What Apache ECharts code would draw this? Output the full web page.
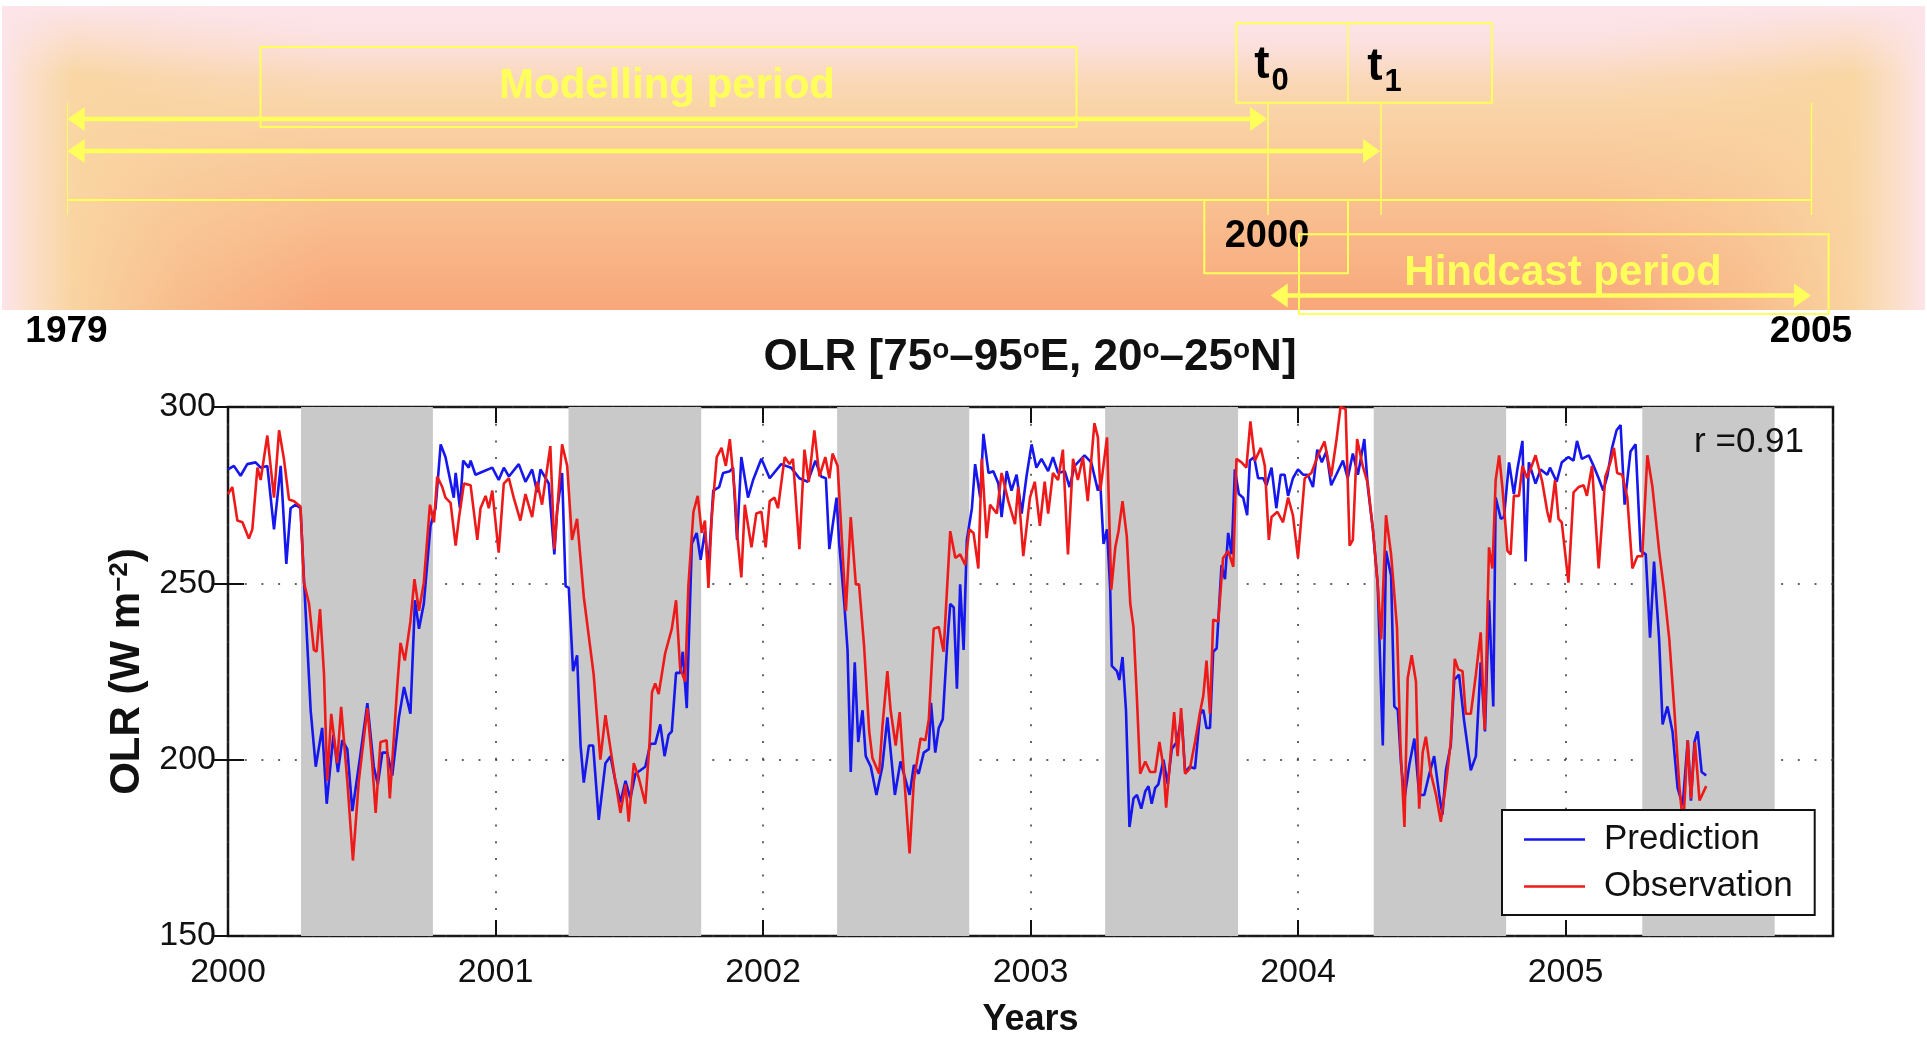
<!DOCTYPE html>
<html>
<head>
<meta charset="utf-8">
<title>OLR hindcast</title>
<script src="https://cdn.jsdelivr.net/npm/echarts@6/dist/echarts.min.js"></script>
<style>
  html, body { margin: 0; padding: 0; background: #fff; }
  #chart { width: 1927px; height: 1043px; }
</style>
</head>
<body>
<div id="chart"></div>
<script>
// ---- data -------------------------------------------------------------
// Time is in years after 1 Jan 2000.
const yearLabels = ['2000', '2001', '2002', '2003', '2004', '2005'];
const olrTicks = [150, 200, 250, 300];

// Grey bands: summer monsoon season of each year
const monsoonStart = [0.273, 1.273, 2.277, 3.279, 4.283, 5.287];
const monsoonEnd   = [0.766, 1.769, 2.771, 3.776, 4.778, 5.782];

const correlation = 0.91;

// Predicted OLR (W m-2), [time, value]
const prediction = [
  [0.000,282.3],[0.022,283.3],[0.047,280.5],[0.072,283.8],[0.103,284.3],[0.122,282.8],[0.147,283.3],[0.172,265.3],
  [0.197,283.3],[0.218,255.5],[0.234,271.3],[0.253,272.3],[0.271,271.3],[0.284,251.2],[0.309,214.0],[0.328,198.0],
  [0.352,209.0],[0.369,187.5],[0.394,207.0],[0.411,196.5],[0.427,205.5],[0.446,203.0],[0.465,185.4],[0.496,202.0],
  [0.521,216.0],[0.545,198.0],[0.560,193.0],[0.577,202.0],[0.595,202.0],[0.614,195.5],[0.639,212.0],[0.658,220.6],
  [0.682,213.0],[0.699,245.2],[0.714,237.1],[0.732,244.2],[0.757,266.3],[0.776,271.3],[0.795,289.4],[0.813,285.8],
  [0.844,274.3],[0.851,281.3],[0.867,271.3],[0.879,284.8],[0.900,282.8],[0.907,284.8],[0.925,280.8],[0.956,281.8],
  [0.988,282.8],[1.012,279.3],[1.031,282.8],[1.050,280.3],[1.087,283.8],[1.112,278.8],[1.137,282.3],[1.156,275.8],
  [1.168,282.3],[1.199,278.3],[1.220,258.2],[1.230,270.3],[1.249,281.3],[1.262,249.2],[1.274,248.7],[1.290,225.1],
  [1.305,229.6],[1.318,204.0],[1.330,193.5],[1.349,204.0],[1.365,204.0],[1.386,182.9],[1.411,199.0],[1.430,201.0],
  [1.448,194.0],[1.467,187.9],[1.486,194.0],[1.504,189.0],[1.523,196.0],[1.542,197.0],[1.560,198.0],[1.579,204.5],
  [1.597,204.5],[1.616,210.0],[1.632,201.0],[1.647,207.0],[1.659,208.0],[1.675,224.6],[1.690,224.6],[1.700,230.6],
  [1.715,214.6],[1.734,261.2],[1.752,264.3],[1.767,256.7],[1.783,264.8],[1.796,254.2],[1.814,276.3],[1.836,277.3],
  [1.851,281.3],[1.876,281.8],[1.888,282.8],[1.903,262.3],[1.919,285.8],[1.944,274.3],[1.963,279.3],[1.994,285.3],
  [2.025,279.8],[2.068,283.8],[2.105,282.8],[2.136,279.8],[2.167,278.8],[2.196,284.8],[2.217,280.3],[2.235,279.8],
  [2.248,259.7],[2.275,274.3],[2.285,261.2],[2.304,244.2],[2.316,231.1],[2.328,196.5],[2.343,227.6],[2.356,205.0],
  [2.372,214.0],[2.384,201.0],[2.403,198.0],[2.424,190.0],[2.446,198.0],[2.465,212.0],[2.493,190.0],[2.514,199.5],
  [2.548,190.0],[2.564,198.5],[2.582,196.0],[2.601,202.0],[2.620,203.0],[2.628,216.1],[2.644,202.0],[2.657,209.0],
  [2.672,211.5],[2.688,232.1],[2.700,244.2],[2.713,243.2],[2.725,220.1],[2.737,249.7],[2.750,231.1],[2.762,262.3],
  [2.781,271.3],[2.793,283.8],[2.812,274.3],[2.824,292.4],[2.843,281.3],[2.861,281.8],[2.880,278.3],[2.892,268.8],
  [2.911,281.8],[2.929,276.3],[2.948,280.8],[2.967,269.8],[2.985,280.3],[3.004,289.4],[3.022,282.8],[3.041,285.3],
  [3.066,281.8],[3.084,285.8],[3.103,281.3],[3.128,281.8],[3.146,277.3],[3.165,283.3],[3.202,286.3],[3.227,284.3],
  [3.252,276.3],[3.261,278.3],[3.273,261.2],[3.286,265.3],[3.298,248.2],[3.304,226.6],[3.323,225.1],[3.332,222.6],
  [3.344,229.1],[3.357,214.0],[3.370,180.9],[3.385,189.0],[3.398,190.0],[3.414,186.1],[3.429,191.0],[3.441,192.5],
  [3.453,187.5],[3.466,192.0],[3.478,193.0],[3.497,200.0],[3.513,193.0],[3.528,203.0],[3.547,205.0],[3.565,212.1],
  [3.578,196.5],[3.596,198.0],[3.615,197.5],[3.634,213.0],[3.646,214.1],[3.658,209.0],[3.671,209.0],[3.683,230.6],
  [3.696,231.6],[3.714,255.2],[3.727,251.2],[3.739,264.3],[3.752,258.2],[3.764,282.3],[3.779,275.3],[3.795,274.3],
  [3.810,269.3],[3.820,284.8],[3.836,285.8],[3.851,279.8],[3.870,279.8],[3.882,277.8],[3.901,282.8],[3.919,271.3],
  [3.935,280.8],[3.950,280.8],[3.963,274.8],[3.981,279.8],[4.000,282.3],[4.019,280.8],[4.037,280.8],[4.056,277.3],
  [4.072,287.9],[4.089,284.3],[4.106,287.4],[4.124,277.8],[4.143,280.8],[4.168,284.8],[4.186,279.8],[4.205,286.8],
  [4.224,280.8],[4.248,290.9],[4.261,277.3],[4.280,265.3],[4.298,249.7],[4.317,204.0],[4.329,259.2],[4.348,252.2],
  [4.360,215.1],[4.373,214.1],[4.385,199.0],[4.398,189.0],[4.416,198.5],[4.435,206.0],[4.453,190.0],[4.472,190.0],
  [4.491,196.0],[4.509,201.0],[4.528,190.0],[4.540,184.4],[4.553,197.0],[4.571,204.0],[4.584,222.6],[4.602,224.1],
  [4.621,211.0],[4.646,197.0],[4.665,201.0],[4.683,227.6],[4.699,208.0],[4.714,245.2],[4.730,215.1],[4.739,274.3],
  [4.758,268.3],[4.770,268.8],[4.789,284.3],[4.807,275.3],[4.820,282.3],[4.839,290.4],[4.851,256.2],[4.863,284.3],
  [4.888,278.3],[4.907,282.3],[4.932,280.8],[4.942,282.8],[4.967,278.8],[4.986,284.3],[5.011,285.8],[5.030,284.8],
  [5.043,290.4],[5.061,285.3],[5.087,286.3],[5.105,283.3],[5.124,279.8],[5.141,276.3],[5.156,280.3],[5.174,288.4],
  [5.191,293.4],[5.206,294.9],[5.221,272.3],[5.243,287.4],[5.262,289.4],[5.281,259.2],[5.300,258.2],[5.316,234.6],
  [5.331,256.2],[5.350,234.1],[5.363,210.0],[5.381,215.1],[5.400,208.0],[5.419,192.0],[5.438,187.0],[5.457,205.5],
  [5.469,188.4],[5.482,205.0],[5.494,208.0],[5.509,196.5],[5.526,195.5]
];

// Observed OLR (W m-2), [time, value]
const observation = [
  [0.000,275.3],[0.016,277.3],[0.035,267.8],[0.054,267.3],[0.078,262.7],[0.091,265.3],[0.110,282.8],[0.122,279.3],
  [0.147,291.9],[0.172,274.3],[0.191,293.4],[0.209,285.3],[0.228,273.8],[0.247,273.3],[0.271,271.8],[0.284,250.2],
  [0.303,244.2],[0.321,231.1],[0.331,230.6],[0.344,242.7],[0.359,224.1],[0.371,194.0],[0.386,213.0],[0.408,199.0],
  [0.423,215.0],[0.446,194.0],[0.467,171.4],[0.489,194.0],[0.521,214.6],[0.539,199.0],[0.552,184.9],[0.570,205.0],
  [0.593,205.5],[0.605,189.0],[0.633,221.1],[0.645,233.1],[0.661,228.1],[0.682,239.2],[0.697,251.2],[0.714,242.2],
  [0.732,250.2],[0.755,272.3],[0.770,267.3],[0.782,280.3],[0.801,277.3],[0.813,274.3],[0.832,272.8],[0.851,260.7],
  [0.863,268.3],[0.882,278.3],[0.907,277.8],[0.932,262.3],[0.944,271.3],[0.963,274.8],[0.975,271.3],[0.988,276.3],
  [1.012,258.7],[1.031,278.3],[1.050,279.8],[1.068,274.3],[1.093,267.8],[1.112,275.3],[1.137,268.8],[1.156,278.8],
  [1.174,272.3],[1.205,288.9],[1.220,259.7],[1.249,289.4],[1.268,283.3],[1.286,262.3],[1.305,268.3],[1.330,246.2],
  [1.367,224.1],[1.392,200.0],[1.411,212.6],[1.430,203.0],[1.448,194.0],[1.467,184.9],[1.486,193.0],[1.498,182.4],
  [1.517,199.0],[1.535,195.0],[1.560,187.5],[1.576,205.0],[1.585,219.1],[1.597,221.6],[1.610,218.6],[1.634,230.1],
  [1.659,237.1],[1.675,245.2],[1.690,226.1],[1.709,222.1],[1.721,249.2],[1.740,270.3],[1.756,274.8],[1.771,264.3],
  [1.783,267.8],[1.796,248.7],[1.808,268.3],[1.827,285.8],[1.845,288.4],[1.861,283.3],[1.876,290.9],[1.895,275.3],
  [1.903,264.3],[1.919,251.7],[1.932,272.3],[1.957,260.2],[1.975,269.8],[1.994,270.3],[2.010,260.2],[2.025,273.3],
  [2.043,274.3],[2.056,271.3],[2.081,285.8],[2.099,283.8],[2.112,285.3],[2.136,259.7],[2.155,287.9],[2.171,278.8],
  [2.192,293.4],[2.211,280.3],[2.233,285.8],[2.248,279.8],[2.260,286.8],[2.279,283.3],[2.310,242.2],[2.328,268.8],
  [2.347,249.7],[2.359,249.7],[2.378,232.1],[2.397,208.0],[2.409,200.5],[2.434,196.0],[2.446,209.0],[2.465,225.1],
  [2.477,214.0],[2.496,204.0],[2.511,213.5],[2.527,196.0],[2.548,173.4],[2.564,194.0],[2.589,206.0],[2.607,205.5],
  [2.620,211.5],[2.638,237.1],[2.657,237.6],[2.675,230.6],[2.700,264.8],[2.719,257.2],[2.737,258.2],[2.756,255.2],
  [2.771,265.3],[2.787,264.3],[2.805,254.2],[2.818,285.3],[2.836,262.8],[2.849,272.3],[2.874,269.8],[2.892,281.3],
  [2.917,273.3],[2.942,266.8],[2.954,277.3],[2.973,257.7],[2.998,274.3],[3.016,278.8],[3.035,266.3],[3.053,278.8],
  [3.066,269.8],[3.084,281.3],[3.103,279.3],[3.121,287.9],[3.140,258.2],[3.159,285.3],[3.177,279.3],[3.196,285.8],
  [3.214,273.3],[3.239,295.4],[3.252,291.4],[3.261,276.3],[3.286,291.4],[3.302,248.2],[3.317,260.2],[3.329,264.8],
  [3.344,273.3],[3.360,263.3],[3.373,244.2],[3.385,237.6],[3.398,217.1],[3.410,196.0],[3.429,199.5],[3.447,196.5],
  [3.466,196.5],[3.482,205.0],[3.497,198.0],[3.507,186.4],[3.522,200.0],[3.537,213.5],[3.550,201.0],[3.563,214.6],
  [3.578,196.0],[3.596,197.5],[3.615,205.0],[3.634,213.5],[3.646,218.1],[3.658,228.1],[3.671,213.0],[3.683,239.7],
  [3.702,239.2],[3.720,257.2],[3.739,259.2],[3.758,254.7],[3.770,285.3],[3.789,284.3],[3.807,282.8],[3.822,295.9],
  [3.839,284.8],[3.861,288.4],[3.876,283.3],[3.891,262.3],[3.901,268.8],[3.923,270.3],[3.944,267.3],[3.963,274.3],
  [3.981,269.3],[4.000,257.2],[4.025,279.8],[4.050,281.3],[4.075,286.3],[4.099,290.2],[4.124,280.3],[4.143,290.2],
  [4.159,300.0],[4.178,299.4],[4.193,260.7],[4.205,262.3],[4.221,290.9],[4.242,283.3],[4.261,278.3],[4.280,265.3],
  [4.298,249.7],[4.311,234.1],[4.329,269.3],[4.348,258.2],[4.370,237.6],[4.383,204.0],[4.398,180.9],[4.410,223.1],
  [4.425,229.6],[4.441,222.1],[4.453,186.1],[4.466,202.0],[4.478,206.5],[4.497,196.0],[4.516,190.0],[4.534,182.4],
  [4.553,193.0],[4.571,205.0],[4.586,228.6],[4.599,225.6],[4.615,225.1],[4.627,213.0],[4.646,213.0],[4.665,224.1],
  [4.683,236.1],[4.698,208.5],[4.714,260.2],[4.727,254.2],[4.739,279.3],[4.752,286.3],[4.764,277.3],[4.783,259.2],
  [4.795,258.2],[4.807,274.8],[4.826,274.8],[4.839,283.3],[4.857,279.8],[4.888,286.3],[4.913,278.8],[4.932,270.3],
  [4.942,267.3],[4.961,279.3],[4.974,268.3],[4.986,267.3],[5.011,250.2],[5.030,275.8],[5.049,277.3],[5.068,277.8],
  [5.080,274.8],[5.099,283.3],[5.124,254.2],[5.149,280.3],[5.168,284.3],[5.181,288.4],[5.193,281.3],[5.212,280.8],
  [5.231,274.3],[5.250,254.2],[5.269,257.7],[5.287,257.7],[5.306,286.3],[5.325,277.3],[5.350,259.2],[5.369,247.7],
  [5.388,234.1],[5.407,214.0],[5.425,193.0],[5.440,181.0],[5.457,205.5],[5.469,188.9],[5.484,205.0],[5.501,188.4],
  [5.526,192.5]
];

// ---- styling ----------------------------------------------------------
const FONT = "'Liberation Sans', Arial, Helvetica, sans-serif";
const SLIDE_FONT = "'Liberation Sans', Arial, sans-serif";
const YEL = '#ffff5c';
const INK = '#111111';
const BLUE = '#1616ee';
const RED = '#ee1a1a';

// double-headed yellow arrow for the timeline sketch
function arrow(x1, x2, y) {
  return [
    { type: 'line', shape: { x1: x1 + 10, y1: y, x2: x2 - 10, y2: y }, style: { stroke: YEL, lineWidth: 4.5 } },
    { type: 'polygon', shape: { points: [[x1, y], [x1 + 17, y - 12], [x1 + 17, y + 12]] }, style: { fill: YEL } },
    { type: 'polygon', shape: { points: [[x2, y], [x2 - 17, y - 12], [x2 - 17, y + 12]] }, style: { fill: YEL } }
  ];
}
function vline(x, y1, y2, w) {
  return { type: 'line', shape: { x1: x, y1: y1, x2: x, y2: y2 }, style: { stroke: YEL, lineWidth: w || 1.5 } };
}
function box(x, y, w, h) {
  return { type: 'rect', shape: { x: x, y: y, width: w, height: h }, style: { fill: 'none', stroke: YEL, lineWidth: 2 } };
}
function label(x, y, text, size, color, align) {
  return {
    type: 'text', x: x, y: y,
    style: { text: text, font: 'bold ' + size + 'px ' + SLIDE_FONT, fill: color, align: align || 'center', verticalAlign: 'middle' }
  };
}

// timeline sketch above the chart: modelling and hindcast periods
const sketch = [
  { type: 'rect', shape: { x: 2, y: 6, width: 1923, height: 304 }, silent: true,
    style: { fill: { type: 'linear', x: 0, y: 0, x2: 0, y2: 1, colorStops: [
      { offset: 0, color: '#fce3e7' }, { offset: 0.12, color: '#fbddd2' }, { offset: 0.32, color: '#f9d5a9' },
      { offset: 0.62, color: '#f9c293' }, { offset: 1, color: '#f8a77a' } ] } } },
  { type: 'rect', shape: { x: 2, y: 6, width: 330, height: 304 }, silent: true,
    style: { fill: { type: 'linear', x: 0, y: 0, x2: 1, y2: 0, colorStops: [
      { offset: 0, color: 'rgba(252,228,234,1)' }, { offset: 0.07, color: 'rgba(251,224,206,1)' },
      { offset: 0.22, color: 'rgba(249,214,162,0.95)' }, { offset: 0.55, color: 'rgba(249,212,160,0.45)' },
      { offset: 1, color: 'rgba(249,212,160,0)' } ] } } },
  { type: 'rect', shape: { x: 1595, y: 6, width: 330, height: 304 }, silent: true,
    style: { fill: { type: 'linear', x: 0, y: 0, x2: 1, y2: 0, colorStops: [
      { offset: 0, color: 'rgba(249,212,160,0)' }, { offset: 0.45, color: 'rgba(249,212,160,0.45)' },
      { offset: 0.78, color: 'rgba(249,214,162,0.95)' }, { offset: 0.93, color: 'rgba(251,224,206,1)' },
      { offset: 1, color: 'rgba(252,228,234,1)' } ] } } },
  { type: 'rect', shape: { x: 2, y: 6, width: 1923, height: 70 }, silent: true,
    style: { fill: { type: 'linear', x: 0, y: 0, x2: 0, y2: 1, colorStops: [
      { offset: 0, color: 'rgba(252,228,234,1)' }, { offset: 1, color: 'rgba(252,228,234,0)' } ] } } },

  box(260.5, 47, 816, 80),
  label(667, 86, 'Modelling period', 42, YEL),
  ...arrow(67.6, 1267, 119),
  ...arrow(67.6, 1380, 151),
  { type: 'line', shape: { x1: 67.6, y1: 200, x2: 1811.5, y2: 200 }, style: { stroke: YEL, lineWidth: 2 } },
  vline(67.6, 103, 215, 1), vline(1268, 103, 215), vline(1381, 102, 215), vline(1811.5, 103, 215),

  box(1236.3, 23.3, 255.6, 79.4),
  vline(1348, 23.3, 102.7, 1.5),
  label(1262, 65.5, 't', 46, '#000'),
  label(1280, 81, '0', 31, '#000'),
  label(1375, 67.5, 't', 46, '#000'),
  label(1393, 82, '1', 31, '#000'),

  box(1204.3, 200, 143.7, 73.3),
  label(1267, 237, '2000', 38, '#000'),

  box(1299, 234.3, 529.6, 79.7),
  label(1563, 273, 'Hindcast period', 42, YEL),
  ...arrow(1270.7, 1811, 295.5),

  label(66.5, 332, '1979', 37, '#000'),
  label(1811, 332, '2005', 37, '#000'),

  // chart title and correlation note
  { type: 'text', x: 1030, y: 358,
    style: { text: 'OLR [75{s|o}–95{s|o}E, 20{s|o}–25{s|o}N]', fontSize: 44, fontWeight: 'bold', fontFamily: FONT,
      fill: INK, align: 'center', verticalAlign: 'middle',
      rich: { s: { fontSize: 28, fontWeight: 'bold', fontFamily: FONT, fill: INK, verticalAlign: 'top' } } } },
  { type: 'text', x: 1804, y: 442, z: 50,
    style: { text: 'r =' + correlation.toFixed(2), fontSize: 35, fontFamily: FONT, fill: INK, align: 'right', verticalAlign: 'middle' } }
];

const dotted = { type: [2, 14.7], color: '#333', width: 1.5 };
const tickStyle = { color: INK, width: 2 };

const chart = echarts.init(document.getElementById('chart'), null, { renderer: 'canvas' });
chart.setOption({
  animation: false,
  backgroundColor: '#ffffff',
  textStyle: { fontFamily: FONT },
  graphic: sketch,
  grid: {
    left: 228, top: 407, width: 1605, height: 530,
    show: true, backgroundColor: '#fff', borderColor: '#1a1a1a', borderWidth: 2.5
  },
  legend: {
    data: [
      { name: 'Prediction', icon: 'rect', itemStyle: { color: BLUE } },
      { name: 'Observation', icon: 'rect', itemStyle: { color: RED } }
    ],
    orient: 'vertical', left: 1502, top: 810,
    padding: [12, 22, 11, 22], itemGap: 12, itemWidth: 61, itemHeight: 2.6,
    backgroundColor: '#fff', borderColor: INK, borderWidth: 2,
    textStyle: { fontSize: 35, color: INK, fontFamily: FONT, padding: [0, 0, 0, 14] },
    z: 20
  },
  xAxis: [
    {
      type: 'value', min: 0, max: 6, interval: 1, position: 'bottom',
      axisLine: { show: false },
      axisTick: { inside: true, length: 16, lineStyle: tickStyle },
      axisLabel: { margin: 20, fontSize: 34, color: INK, fontFamily: FONT,
        formatter: v => yearLabels[v] || '' },
      splitLine: { show: true, lineStyle: dotted },
      name: 'Years', nameLocation: 'middle', nameGap: 66,
      nameTextStyle: { fontSize: 36, fontWeight: 'bold', color: INK, fontFamily: FONT }
    },
    {
      type: 'value', min: 0, max: 6, interval: 1, position: 'top',
      axisLine: { show: false },
      axisTick: { inside: true, length: 16, lineStyle: tickStyle },
      axisLabel: { show: false }, splitLine: { show: false }
    }
  ],
  yAxis: [
    {
      type: 'value', min: olrTicks[0], max: olrTicks[olrTicks.length - 1], interval: olrTicks[1] - olrTicks[0],
      position: 'left',
      axisLine: { show: false },
      axisTick: { inside: true, length: 16, lineStyle: tickStyle },
      axisLabel: { margin: 12, fontSize: 34, color: INK, fontFamily: FONT },
      splitLine: { show: true, lineStyle: dotted },
      name: 'OLR (W m{sup|−2})', nameLocation: 'middle', nameGap: 76,
      nameTextStyle: {
        fontSize: 42, fontWeight: 'bold', color: INK, fontFamily: FONT,
        rich: { sup: { fontSize: 26, fontWeight: 'bold', color: INK, fontFamily: FONT, verticalAlign: 'top' } }
      }
    },
    {
      type: 'value', min: olrTicks[0], max: olrTicks[olrTicks.length - 1], interval: olrTicks[1] - olrTicks[0],
      position: 'right',
      axisLine: { show: false },
      axisTick: { inside: true, length: 16, lineStyle: tickStyle },
      axisLabel: { show: false }, splitLine: { show: false }
    }
  ],
  series: [
    {
      name: 'monsoon', type: 'line', data: [], z: 1, silent: true,
      markArea: {
        silent: true,
        itemStyle: { color: '#c9c9c9' },
        data: monsoonStart.map((s, i) => [{ xAxis: s }, { xAxis: monsoonEnd[i] }])
      }
    },
    {
      name: 'Prediction', type: 'line', data: prediction, z: 3,
      symbol: 'none', showSymbol: false,
      lineStyle: { color: BLUE, width: 2.6 }, itemStyle: { color: BLUE }
    },
    {
      name: 'Observation', type: 'line', data: observation, z: 3,
      symbol: 'none', showSymbol: false,
      lineStyle: { color: RED, width: 2.6 }, itemStyle: { color: RED }
    }
  ]
});
</script>
</body>
</html>
